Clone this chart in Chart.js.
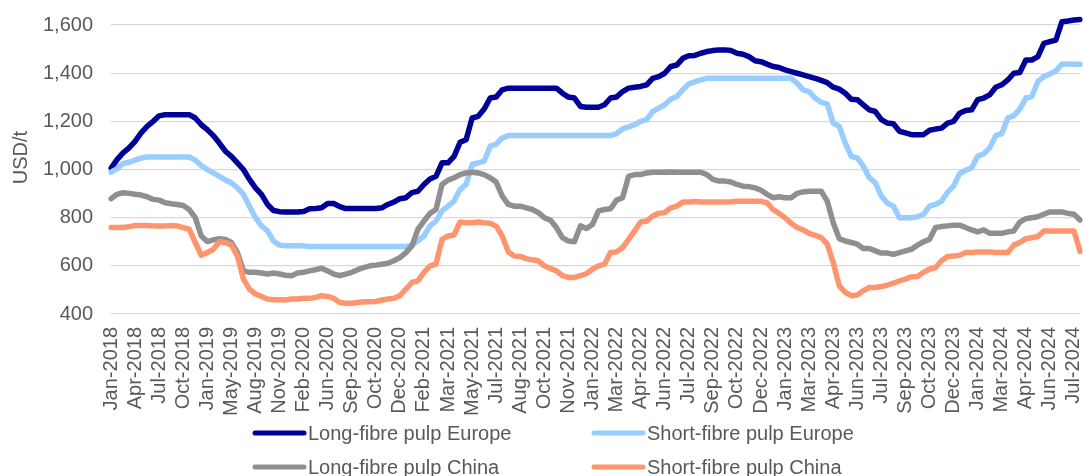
<!DOCTYPE html>
<html>
<head>
<meta charset="utf-8">
<script src="https://cdn.jsdelivr.net/npm/chart.js@4"></script>
<style>
  html, body { margin: 0; padding: 0; background: #fff; }
  #wrap { position: relative; width: 1083px; height: 476px; }
</style>
</head>
<body>
<div id="wrap"><canvas id="pulp"></canvas></div>
<script>
// labels under the x axis, one every STEP data points
const tickLabels = [
  'Jan-2018', 'Apr-2018', 'Jul-2018', 'Oct-2018', 'Jan-2019', 'May-2019', 'Aug-2019', 'Nov-2019',
  'Feb-2020', 'Jun-2020', 'Sep-2020', 'Oct-2020', 'Dec-2020', 'Feb-2021', 'Mar-2021', 'May-2021',
  'Jul-2021', 'Aug-2021', 'Oct-2021', 'Nov-2021', 'Jan-2022', 'Mar-2022', 'Apr-2022', 'Jun-2022',
  'Jul-2022', 'Sep-2022', 'Oct-2022', 'Dec-2022', 'Jan-2023', 'Mar-2023', 'Apr-2023', 'Jun-2023',
  'Jul-2023', 'Sep-2023', 'Oct-2023', 'Dec-2023', 'Jan-2024', 'Mar-2024', 'Apr-2024', 'Jun-2024',
  'Jul-2024'
];
const STEP = 4;

// USD/t
const longEurope = [
  1005,1041,1069,1090,1117,1152,1179,1200,1223,1228,
  1228,1228,1228,1228,1214,1186,1166,1141,1110,1076,
  1055,1028,1000,959,924,897,855,830,825,824,
  824,824,826,837,838,841,859,859,846,838,
  838,838,838,838,838,841,855,865,879,883,
  904,910,938,961,972,1028,1028,1055,1113,1124,
  1214,1221,1251,1297,1301,1331,1338,1338,1338,1338,
  1338,1338,1338,1338,1338,1317,1301,1297,1262,1259,
  1259,1259,1269,1297,1301,1324,1338,1342,1345,1352,
  1379,1386,1400,1428,1434,1462,1473,1474,1483,1490,
  1494,1497,1497,1494,1483,1479,1469,1452,1448,1438,
  1428,1424,1414,1407,1400,1393,1386,1379,1370,1361,
  1342,1334,1317,1292,1290,1269,1248,1241,1207,1193,
  1190,1159,1152,1145,1145,1145,1163,1168,1172,1193,
  1200,1234,1245,1248,1290,1297,1310,1342,1352,1372,
  1400,1403,1455,1455,1469,1524,1531,1538,1614,1617,
  1621,1623
];
const shortEurope = [
  989,1003,1025,1030,1039,1048,1052,1052,1052,1052,
  1052,1052,1052,1052,1039,1017,1000,986,972,956,
  945,924,897,848,800,766,745,703,686,683,
  683,683,683,680,680,680,680,680,680,680,
  680,680,680,680,680,680,680,680,680,680,
  686,704,724,766,786,828,848,869,917,938,
  1021,1028,1035,1097,1105,1131,1141,1141,1141,1141,
  1141,1141,1141,1141,1141,1141,1141,1141,1141,1141,
  1141,1141,1141,1141,1149,1169,1177,1186,1200,1207,
  1241,1255,1269,1292,1303,1331,1356,1364,1372,1379,
  1379,1379,1379,1379,1379,1379,1379,1379,1379,1379,
  1379,1379,1379,1379,1359,1331,1324,1297,1279,1273,
  1193,1179,1110,1055,1048,1014,966,945,890,860,
  848,800,800,800,804,814,848,855,869,906,
  931,983,997,1007,1055,1066,1090,1141,1149,1214,
  1224,1251,1297,1303,1366,1386,1397,1410,1438,1438,
  1437,1437
];
const longChina = [
  879,897,904,901,897,894,887,876,873,862,
  858,855,851,834,800,724,701,708,713,710,
  697,655,579,573,573,570,566,570,566,561,
  559,570,573,579,584,590,579,566,559,566,
  573,584,593,600,603,607,611,621,634,655,
  683,752,786,818,834,938,956,966,979,986,
  989,986,979,966,948,890,855,848,848,841,
  834,821,800,790,759,717,703,700,766,755,
  772,828,834,837,873,883,972,979,979,986,
  989,989,989,990,989,989,989,989,989,979,
  959,952,952,948,938,931,929,924,914,897,
  883,887,883,883,901,907,910,910,910,869,
  779,713,703,697,690,672,672,662,653,653,
  648,655,662,669,686,700,710,759,763,766,
  769,769,759,749,741,749,735,735,735,741,
  745,782,796,800,804,814,824,824,824,818,
  814,790
];
const shortChina = [
  759,759,759,763,768,768,768,766,766,766,
  768,766,759,752,697,644,655,669,700,697,
  686,641,545,503,483,473,462,459,459,458,
  462,462,465,465,469,476,473,465,448,445,
  445,448,451,451,452,458,462,465,476,503,
  531,538,573,600,607,710,724,728,782,779,
  779,782,779,777,765,724,658,641,639,630,
  625,621,600,589,579,559,552,552,559,568,
  586,600,607,655,658,676,710,745,782,786,
  807,818,821,841,848,865,865,867,865,865,
  865,865,865,866,868,868,868,868,868,862,
  834,818,800,777,759,749,735,727,717,690,
  614,517,490,476,479,497,510,510,514,520,
  528,538,545,555,556,573,586,593,621,639,
  641,644,655,655,658,658,658,655,655,655,
  686,697,713,717,722,745,745,745,745,745,
  745,660
];

const seriesNames = ['Long-fibre pulp Europe', 'Short-fibre pulp Europe', 'Long-fibre pulp China', 'Short-fibre pulp China'];
const seriesColors = ['#000099', '#99CCFF', '#8F8F8F', '#FF956F'];

const FONT = '"Liberation Sans", Arial, sans-serif';
const GREY_TEXT = '#595959';

// category labels: a real label every STEP points, blank in between
const labels = longEurope.map((v, i) => (i % STEP === 0 ? (tickLabels[i / STEP] || '') : ''));

// legend laid out as a 2x2 grid under the axis labels
const gridLegend = {
  id: 'gridLegend',
  afterDraw(chart) {
    const c = chart.ctx;
    const cols = [252, 591];
    const rows = [433, 467];
    c.save();
    c.font = '20px ' + FONT;
    c.textBaseline = 'alphabetic';
    chart.data.datasets.forEach((ds, i) => {
      const x = cols[i % 2];
      const y = rows[Math.floor(i / 2)];
      c.strokeStyle = ds.borderColor;
      c.lineWidth = 5;
      c.lineCap = 'round';
      c.beginPath();
      c.moveTo(x + 3, y);
      c.lineTo(x + 52, y);
      c.stroke();
      c.fillStyle = GREY_TEXT;
      c.fillText(ds.label, x + 56, y + 7);
    });
    c.restore();
  }
};

const datasets = [longEurope, shortEurope, longChina, shortChina].map((d, i) => ({
  label: seriesNames[i],
  data: d,
  borderColor: seriesColors[i],
  backgroundColor: seriesColors[i],
  order: 4 - i
}));

new Chart(document.getElementById('pulp'), {
  type: 'line',
  data: { labels: labels, datasets: datasets },
  options: {
    responsive: true,
    maintainAspectRatio: false,
    animation: false,
    layout: { padding: { top: 1, right: 3, bottom: 0, left: 0 } },
    elements: {
      point: { radius: 0 },
      line: { borderWidth: 5.5, tension: 0, borderJoinStyle: 'round', borderCapStyle: 'round' }
    },
    plugins: { legend: { display: false }, tooltip: { enabled: false } },
    scales: {
      x: {
        grid: { display: false, drawTicks: false },
        border: { display: false },
        ticks: {
          autoSkip: false,
          minRotation: 90,
          maxRotation: 90,
          padding: 13,
          color: GREY_TEXT,
          font: { family: FONT, size: 20 },
          callback: function (v) {
            const l = this.getLabelForValue(v);
            return l === '' ? null : l;
          }
        },
        afterFit(s) { s.height = 162; s.paddingLeft = 0; s.paddingRight = 0; }
      },
      y: {
        min: 400,
        max: 1700,
        grid: { color: '#D9D9D9', lineWidth: 1.3, drawTicks: false },
        border: { display: false },
        ticks: {
          stepSize: 200,
          padding: 18,
          color: GREY_TEXT,
          font: { family: FONT, size: 20 },
          callback: v => v.toLocaleString('en-US')
        },
        afterBuildTicks(s) { s.ticks = s.ticks.filter(t => t.value % 200 === 0); },
        afterFit(s) { s.width = 111; s.paddingTop = 0; s.paddingBottom = 0; },
        title: {
          display: true,
          text: 'USD/t',
          color: GREY_TEXT,
          font: { family: FONT, size: 20 },
          padding: { top: 9, bottom: 0 }
        }
      }
    }
  },
  plugins: [gridLegend]
});
</script>
</body>
</html>
